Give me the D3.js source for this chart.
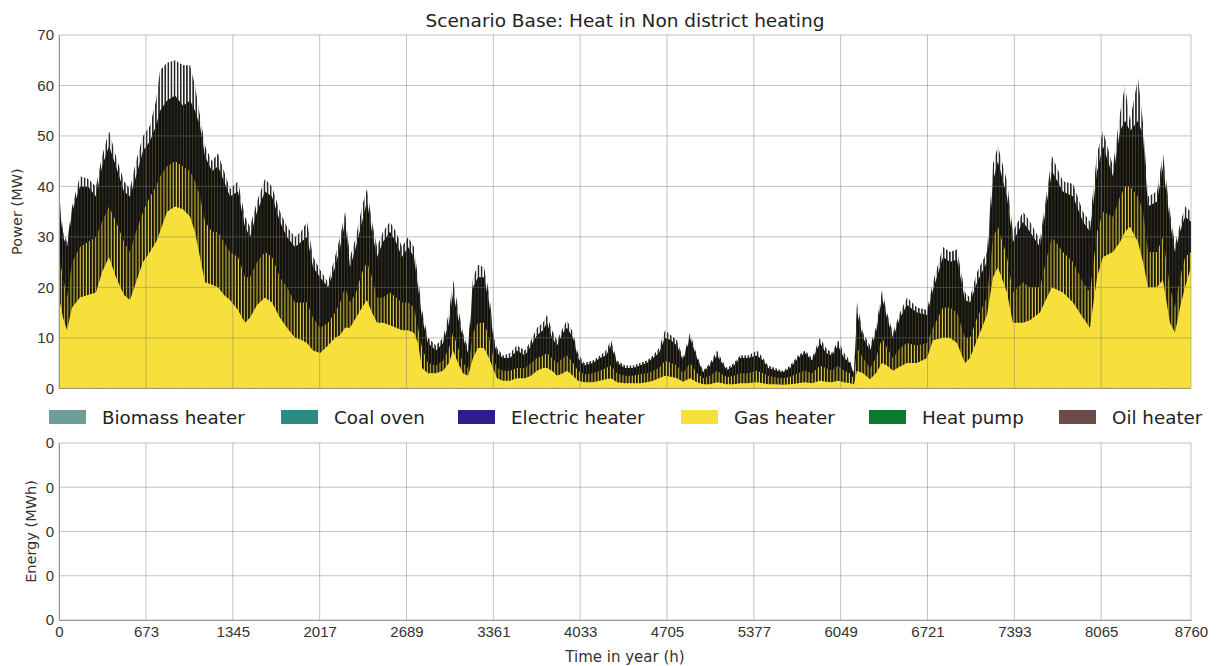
<!DOCTYPE html>
<html>
<head>
<meta charset="utf-8">
<script src="https://cdn.jsdelivr.net/npm/d3@7"></script>
<style>
  body { margin: 0; background: #fff; }
  svg { display: block; font-family: "DejaVu Sans", sans-serif; }
  .tick text { fill: #333; }
</style>
</head>
<body>
<div id="chart"></div>
<script>
// hour of year for each reading
const hours = [0, 31, 62, 101, 162, 224, 286, 333, 387, 441, 503, 549, 596, 650, 704, 751, 782, 836, 898, 960,
  1014, 1052, 1091, 1130, 1184, 1230, 1277, 1323, 1385, 1439, 1478, 1532, 1594, 1648, 1710, 1764, 1826, 1873, 1919, 1966,
  2020, 2082, 2136, 2175, 2214, 2252, 2298, 2345, 2383, 2422, 2461, 2507, 2561, 2608, 2654, 2701, 2747, 2778, 2809, 2855,
  2917, 2972, 3018, 3049, 3088, 3126, 3165, 3204, 3242, 3289, 3328, 3366, 3389, 3436, 3490, 3544, 3606, 3653, 3699, 3745,
  3776, 3815, 3854, 3900, 3931, 3978, 4016, 4063, 4132, 4186, 4233, 4272, 4318, 4380, 4442, 4496, 4550, 4597, 4643, 4690,
  4736, 4782, 4829, 4883, 4937, 4984, 5038, 5092, 5131, 5169, 5223, 5270, 5332, 5401, 5448, 5487, 5541, 5603, 5657, 5719,
  5773, 5827, 5889, 5935, 5982, 6028, 6075, 6121, 6152, 6175, 6222, 6276, 6322, 6369, 6407, 6454, 6508, 6562, 6640, 6717,
  6763, 6841, 6895, 6949, 7011, 7050, 7104, 7181, 7228, 7266, 7336, 7382, 7460, 7514, 7591, 7645, 7684, 7769, 7847, 7924,
  7978, 8033, 8079, 8156, 8211, 8249, 8288, 8350, 8389, 8427, 8497, 8543, 8597, 8636, 8675, 8714, 8760];

// daily peak of the stacked total (MW)
const peakMW = [39, 31, 29, 36, 42, 41.5, 40, 46, 51, 46, 41, 39.5, 45, 50, 52, 57, 63, 64.5, 65, 64,
  64, 60, 54, 48, 45, 46.5, 43, 39.5, 41, 34, 32, 37, 41.5, 40, 35, 32, 30, 31, 33, 26,
  23.5, 21, 26, 30, 35, 26, 30, 36, 39.5, 33, 28, 31, 33, 31, 28, 30, 28, 22, 15.5, 10,
  8.5, 10, 15, 21.5, 16, 11, 8, 22, 24.5, 24, 19, 10, 8, 6.5, 7, 8.5, 7.5, 9.5, 12, 13,
  14.5, 11.5, 9.5, 12, 13.5, 11, 7, 5, 5.5, 6.5, 7.5, 9.5, 5.5, 4.5, 4.5, 5, 5.5, 6.5, 8, 11.5,
  10.5, 9.5, 6, 11, 6.5, 3.5, 5, 7.5, 5.5, 4, 5, 6.5, 6.5, 7.5, 6, 4.5, 4, 3.5, 4.5, 6.5,
  7.5, 6, 10, 8, 7, 9.5, 7, 5.5, 3, 17, 11, 8.5, 12, 19.5, 15, 11, 15, 18, 16, 15.5,
  21, 28, 27, 27.5, 19, 18, 23, 27, 44.5, 48, 41, 31, 35, 33, 29.5, 39, 46, 41, 40.5, 35,
  33, 46.5, 51, 44, 54.5, 60, 53, 61.5, 52.5, 38, 39, 46.5, 35, 28.5, 32.5, 36, 35];

// level where the dense dark band ends and the grey spikes begin (MW)
const blackMW = [37, 30, 28, 35, 40, 40, 38, 44, 48, 44, 39, 38, 42, 47, 49, 52, 55, 57, 58, 56,
  57, 55, 52, 46, 43, 44, 41, 38, 39, 32, 30, 35, 39, 38, 33, 30, 28, 29, 30, 24,
  22, 20, 24, 28, 33, 24, 28, 33, 37, 31, 26, 29, 31, 29, 26, 28, 26, 20, 14, 9,
  7.5, 9, 13, 19, 14, 10, 7, 20, 22, 22, 17, 9, 7, 6, 6, 7.5, 6.5, 8.5, 10.5, 11.5,
  13, 10, 8.5, 11, 12, 10, 6, 4.5, 5, 6, 6.5, 8.5, 5, 4, 4, 4.5, 5, 6, 7, 10,
  9.5, 8.5, 5.5, 10, 6, 3.2, 4.5, 6.5, 5, 3.6, 4.5, 6, 6, 6.5, 5.5, 4, 3.6, 3.2, 4, 6,
  7, 5.5, 9, 7, 6.5, 8.5, 6, 5, 2.8, 15, 10, 7.5, 11, 18, 14, 10, 14, 16.5, 15, 14.5,
  19.5, 26, 25, 25.5, 17.5, 17, 21, 25, 41, 45, 38, 29, 33, 31, 28, 37, 43, 39, 38, 33,
  31, 43, 48, 42, 51, 53, 51, 53, 50, 36, 37, 44, 33, 27, 31, 34, 33];

// top of the mixed yellow / dark band (MW)
const oliveMW = [26, 22, 18, 25, 28, 29, 30, 33, 36, 33, 29, 27, 31, 35, 38, 40, 42, 44, 45, 44,
  43, 41, 38, 33, 31, 31, 29, 27, 26, 22, 22, 25, 27, 26, 22, 20, 17, 17, 17, 14,
  12, 13, 15, 17, 20, 17, 19, 23, 25, 22, 18, 18, 19, 18, 17, 17, 16, 12, 8, 5,
  4.5, 5.5, 8, 11, 8, 5, 4, 11, 13, 13, 10, 5.5, 4, 3.5, 3.5, 4, 4, 5, 6, 6.5,
  7, 6, 5, 6, 6.5, 5, 3.5, 2.8, 3, 3.5, 4, 4.5, 3, 2.5, 2.5, 2.8, 3, 3.5, 4, 5.5,
  5, 4.5, 3, 5, 3, 2, 2.5, 3.5, 2.8, 2.2, 2.5, 3, 3, 3.5, 3, 2.5, 2.2, 2, 2.3, 3,
  3.5, 3, 4.5, 4, 3.5, 4.5, 3.5, 3, 1.8, 8, 6, 4, 6, 10, 8, 6, 8, 9, 8.5, 9,
  12, 16, 16, 15, 10, 10, 14, 18, 30, 32, 26, 19, 21, 20, 20, 26, 30, 27, 25, 21,
  19, 31, 35, 34, 38, 40, 40, 38, 35, 27, 27, 30, 20, 16, 22, 26, 27];

// gas heater level reached every hour of the day (MW)
const gasBaseMW = [18, 14, 11.5, 16, 18, 18.5, 19, 23, 26, 22, 18.5, 17.5, 21, 25, 27, 29, 31, 35, 36, 35.5,
  34, 31, 26, 21, 20.5, 20, 18.5, 17.5, 15.5, 13, 14, 16.5, 18, 17, 14, 12, 10, 9.6, 9, 7.5,
  7, 8.5, 10, 10.5, 12, 12, 14, 16, 17.5, 15, 13, 13, 12.5, 12, 11.5, 11.5, 11, 9, 4, 3,
  3, 3.5, 5, 7.5, 5, 3, 2.5, 6, 8, 8, 6, 3.5, 2, 1.5, 1.5, 2, 2, 2.5, 3.5, 4,
  4, 3.5, 2.5, 3, 3.5, 2.5, 1.5, 1.2, 1.2, 1.5, 1.8, 2, 1.2, 1, 1, 1, 1.2, 1.5, 2, 2.5,
  2.3, 2, 1.3, 2, 1.2, 0.8, 0.8, 1.2, 1, 0.8, 0.8, 1, 1, 1.2, 1, 0.8, 0.8, 0.7, 0.8, 1,
  1.2, 1, 1.5, 1.3, 1.2, 1.5, 1.2, 1, 0.8, 3.5, 3, 1.8, 3, 5, 4.5, 3.5, 4.3, 5, 5, 6,
  9.5, 10, 10, 9, 5, 6, 9.5, 14.5, 22, 24, 19, 13, 13, 13.5, 15, 18, 20, 19, 17, 14,
  12, 22, 26, 27, 29, 31, 32, 29, 25, 20, 20, 21.5, 13, 11, 16, 20, 24];

const technologies = ['Biomass heater', 'Coal oven', 'Electric heater', 'Gas heater', 'Heat pump', 'Oil heater'];
const techColors = ['#6f9e97', '#2b8b80', '#2c1f8c', '#f7df3c', '#0b7a2e', '#6e4b4b'];
const xTickValues = [0, 673, 1345, 2017, 2689, 3361, 4033, 4705, 5377, 6049, 6721, 7393, 8065, 8760];
const powerTicks = [0, 10, 20, 30, 40, 50, 60, 70];
const energyTickLabels = ['0', '0', '0', '0', '0'];

const width = 1221, height = 666;

const svg = d3.select('#chart').append('svg')
  .attr('width', width)
  .attr('height', height);

const x = d3.scaleLinear().domain([0, 8760]).range([59, 1191]);
const yPow = d3.scaleLinear().domain([0, 70]).range([388.3, 35]);
const yEn = d3.scaleLinear().domain([0, energyTickLabels.length - 1]).range([620, 443]);

// vertical stripes at the daily period, the hourly lines of the original plot
const dayPx = x(24) - x(0);
const defs = svg.append('defs');
function stripes(id, bg, line, lw) {
  const p = defs.append('pattern')
    .attr('id', id)
    .attr('patternUnits', 'userSpaceOnUse')
    .attr('x', x(0))
    .attr('width', dayPx)
    .attr('height', 10);
  p.append('rect').attr('width', dayPx).attr('height', 10).attr('fill', bg);
  p.append('rect').attr('width', lw).attr('height', 10).attr('fill', line);
}
stripes('stripeGray', '#ffffff', '#262626', 1.6);
stripes('stripeDark', '#111111', '#4f4a26', 0.6);
stripes('stripeOlive', '#e6cf3c', '#1a180c', 2.1);

const rows = hours.map((h, i) => ({
  h: h, peak: peakMW[i], black: blackMW[i], olive: oliveMW[i], base: gasBaseMW[i]
}));

const layers = [
  { key: 'peak', fill: 'url(#stripeGray)' },
  { key: 'black', fill: 'url(#stripeDark)' },
  { key: 'olive', fill: 'url(#stripeOlive)' },
  { key: 'base', fill: techColors[3] }
];

const plot = svg.append('g');
layers.forEach(l => {
  const area = d3.area()
    .x(d => x(d.h))
    .y0(yPow(0))
    .y1(d => yPow(d[l.key]));
  plot.append('path')
    .datum(rows)
    .attr('d', area)
    .attr('fill', l.fill);
});

// grids drawn over the data, as in the source
const gridColor = '#7a7a7a';
const gTop = svg.append('g');
gTop.selectAll('.hg').data(powerTicks).enter().append('line')
  .attr('x1', x(0)).attr('x2', x(8760))
  .attr('y1', d => yPow(d)).attr('y2', d => yPow(d))
  .attr('stroke', gridColor).attr('stroke-opacity', 0.45).attr('stroke-width', 1);
gTop.selectAll('.vg').data(xTickValues).enter().append('line')
  .attr('x1', d => x(d)).attr('x2', d => x(d))
  .attr('y1', yPow(70)).attr('y2', yPow(0))
  .attr('stroke', gridColor).attr('stroke-opacity', 0.45).attr('stroke-width', 1);

const gBot = svg.append('g');
gBot.selectAll('.hg').data(d3.range(energyTickLabels.length)).enter().append('line')
  .attr('x1', x(0)).attr('x2', x(8760))
  .attr('y1', d => yEn(d)).attr('y2', d => yEn(d))
  .attr('stroke', gridColor).attr('stroke-opacity', 0.45).attr('stroke-width', 1);
gBot.selectAll('.vg').data(xTickValues).enter().append('line')
  .attr('x1', d => x(d)).attr('x2', d => x(d))
  .attr('y1', yEn(energyTickLabels.length - 1)).attr('y2', yEn(0))
  .attr('stroke', gridColor).attr('stroke-opacity', 0.45).attr('stroke-width', 1);

// axes
const yAxisTop = d3.axisLeft(yPow).tickValues(powerTicks).tickSize(0).tickPadding(5);
svg.append('g')
  .attr('transform', `translate(${x(0)},0)`)
  .call(yAxisTop)
  .call(g => g.select('.domain').attr('stroke', '#999'))
  .selectAll('text').attr('font-size', 15);

const yAxisBot = d3.axisLeft(yEn)
  .tickValues(d3.range(energyTickLabels.length))
  .tickFormat((d, i) => energyTickLabels[i])
  .tickSize(0).tickPadding(5);
svg.append('g')
  .attr('transform', `translate(${x(0)},0)`)
  .call(yAxisBot)
  .call(g => g.select('.domain').attr('stroke', '#999'))
  .selectAll('text').attr('font-size', 15);

const xAxis = d3.axisBottom(x).tickValues(xTickValues).tickFormat(d3.format('d')).tickSize(0).tickPadding(6);
svg.append('g')
  .attr('transform', `translate(0,${yEn(0)})`)
  .call(xAxis)
  .call(g => g.select('.domain').attr('stroke', '#999'))
  .selectAll('text').attr('font-size', 15);

// titles
svg.append('text')
  .attr('x', 625).attr('y', 27)
  .attr('text-anchor', 'middle')
  .attr('font-size', 18.5).attr('fill', '#222')
  .text('Scenario Base: Heat in Non district heating');

svg.append('text')
  .attr('transform', `translate(22,${(yPow(0) + yPow(70)) / 2}) rotate(-90)`)
  .attr('text-anchor', 'middle')
  .attr('font-size', 14.5).attr('fill', '#333')
  .text('Power (MW)');

svg.append('text')
  .attr('transform', `translate(36,${(yEn(0) + yEn(4)) / 2}) rotate(-90)`)
  .attr('text-anchor', 'middle')
  .attr('font-size', 14.5).attr('fill', '#333')
  .text('Energy (MWh)');

svg.append('text')
  .attr('x', 625).attr('y', 662)
  .attr('text-anchor', 'middle')
  .attr('font-size', 15).attr('fill', '#333')
  .text('Time in year (h)');

// legend
const legendX = [49, 281, 458, 681, 869, 1059];
const legend = svg.append('g');
const item = legend.selectAll('g').data(technologies).enter().append('g')
  .attr('transform', (d, i) => `translate(${legendX[i]},410)`);
item.append('rect')
  .attr('width', 37).attr('height', 14)
  .attr('fill', (d, i) => techColors[i]);
item.append('text')
  .attr('x', 53).attr('y', 14)
  .attr('font-size', 18.3).attr('fill', '#222')
  .text(d => d);
</script>
</body>
</html>
